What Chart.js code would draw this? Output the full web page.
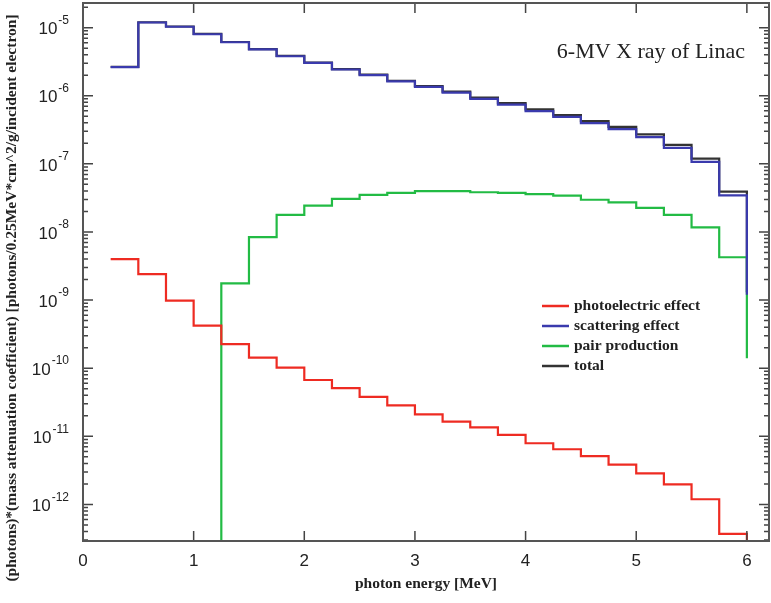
<!DOCTYPE html>
<html>
<head>
<meta charset="utf-8">
<title>6-MV X ray of Linac</title>
<script src="https://cdn.jsdelivr.net/npm/chart.js@4/dist/chart.umd.min.js"></script>
<style>
  body { margin: 0; background: #fff; }
  canvas { display: block; }
</style>
</head>
<body>
<canvas id="spectrum" width="771" height="603"></canvas>
<script>
// left edge of every 0.25 MeV energy bin
const binStart = [0.25, 0.5, 0.75, 1.0, 1.25, 1.5, 1.75, 2.0, 2.25, 2.5, 2.75, 3.0,
                  3.25, 3.5, 3.75, 4.0, 4.25, 4.5, 4.75, 5.0, 5.25, 5.5, 5.75];
const binEnd = 6.0;

const photoelectric = [4.0e-9, 2.4e-9, 9.8e-10, 4.2e-10, 2.25e-10, 1.43e-10, 1.02e-10, 6.7e-11,
                       5.1e-11, 3.8e-11, 2.85e-11, 2.1e-11, 1.64e-11, 1.35e-11, 1.05e-11, 7.9e-12,
                       6.45e-12, 5.1e-12, 3.84e-12, 2.86e-12, 1.97e-12, 1.19e-12, 3.7e-13];
const scattering = [2.64e-6, 1.19e-5, 1.03e-5, 8.0e-6, 6.1e-6, 4.8e-6, 3.8e-6, 3.04e-6,
                    2.43e-6, 2.01e-6, 1.62e-6, 1.35e-6, 1.11e-6, 9.0e-7, 7.4e-7, 5.95e-7,
                    4.88e-7, 3.95e-7, 3.23e-7, 2.47e-7, 1.72e-7, 1.07e-7, 3.45e-8];
const pairProduction = [null, null, null, null, 1.76e-9, 8.4e-9, 1.78e-8, 2.44e-8,
                        3.06e-8, 3.5e-8, 3.75e-8, 3.97e-8, 3.97e-8, 3.83e-8, 3.75e-8, 3.6e-8,
                        3.42e-8, 2.97e-8, 2.72e-8, 2.25e-8, 1.78e-8, 1.17e-8, 4.25e-9];
const total = [2.66e-6, 1.2e-5, 1.04e-5, 8.1e-6, 6.15e-6, 4.85e-6, 3.85e-6, 3.07e-6,
               2.46e-6, 2.05e-6, 1.66e-6, 1.39e-6, 1.15e-6, 9.4e-7, 7.8e-7, 6.3e-7,
               5.2e-7, 4.25e-7, 3.5e-7, 2.7e-7, 1.9e-7, 1.19e-7, 3.9e-8];

// where each curve falls to at the 6 MeV edge
const dropAtEnd = [1e-14, 1.2e-9, 1.4e-10, 1.3e-9];
const FLOOR = 1e-14;

const seriesNames = ['photoelectric effect', 'scattering effect', 'pair production', 'total'];
const seriesColors = ['#ee2b22', '#3a3aad', '#22bb44', '#333333'];

const energyTicks = [0, 1, 2, 3, 4, 5, 6];
const decades = [-12, -11, -10, -9, -8, -7, -6, -5];
const minorSteps = [2, 3, 4, 5, 6, 7, 8, 9];

const Y_MIN = 2.9e-13, Y_MAX = 2.3e-5;
const SANS = '"Liberation Sans", Arial, sans-serif';
const SERIF = '"Liberation Serif", "Times New Roman", serif';

// turn bin values into points for a stepped line
function histogram(values, drop) {
  const pts = [];
  values.forEach((v, i) => {
    if (v === null) return;
    if (pts.length === 0 && i > 0) pts.push({ x: binStart[i], y: FLOOR });
    pts.push({ x: binStart[i], y: v });
  });
  pts.push({ x: binEnd, y: pts[pts.length - 1].y });
  pts.push({ x: binEnd, y: drop });
  return pts;
}

const allSeries = [photoelectric, scattering, pairProduction, total];

const decorations = {
  id: 'decorations',
  afterDatasetsDraw(chart) {
    const { ctx, chartArea: a, scales: { x, y } } = chart;
    ctx.save();

    // tick marks pointing into the plot, on all four sides
    ctx.strokeStyle = '#444';
    ctx.lineWidth = 1.5;
    ctx.beginPath();
    x.ticks.forEach(t => {
      const px = x.getPixelForValue(t.value);
      ctx.moveTo(px, a.bottom); ctx.lineTo(px, a.bottom - 10);
      ctx.moveTo(px, a.top); ctx.lineTo(px, a.top + 10);
    });
    y.ticks.forEach(t => {
      const py = y.getPixelForValue(t.value);
      const len = t.major ? 10 : 5;
      ctx.moveTo(a.left, py); ctx.lineTo(a.left + len, py);
      ctx.moveTo(a.right, py); ctx.lineTo(a.right - len, py);
    });
    ctx.stroke();

    ctx.strokeStyle = '#555';
    ctx.lineWidth = 2;
    ctx.strokeRect(a.left, a.top, a.right - a.left, a.bottom - a.top);

    // decade labels as 10 with a raised exponent
    ctx.fillStyle = '#222';
    ctx.textBaseline = 'middle';
    ctx.textAlign = 'right';
    decades.forEach(d => {
      const py = y.getPixelForValue(Math.pow(10, d));
      const exp = String(d);
      ctx.font = '12px ' + SANS;
      const w = ctx.measureText(exp).width;
      ctx.fillText(exp, a.left - 14, py - 7);
      ctx.font = '17px ' + SANS;
      ctx.fillText('10', a.left - 15 - w, py + 2);
    });

    // y axis title
    ctx.save();
    ctx.translate(12, 298);
    ctx.rotate(-Math.PI / 2);
    ctx.textAlign = 'center';
    ctx.font = 'bold 15.5px ' + SERIF;
    ctx.fillText('(photons)*(mass attenuation coefficient) [photons/0.25MeV*cm^2/g/incident electron]', 0, 0);
    ctx.restore();

    // chart caption in the upper right corner
    ctx.textAlign = 'right';
    ctx.textBaseline = 'alphabetic';
    ctx.font = '22px ' + SERIF;
    ctx.fillText('6-MV X ray of Linac', 745, 58);

    // legend block
    ctx.textAlign = 'left';
    ctx.textBaseline = 'middle';
    ctx.font = 'bold 15.5px ' + SERIF;
    chart.data.datasets.forEach((ds, i) => {
      const ly = 306 + i * 20;
      ctx.strokeStyle = ds.borderColor;
      ctx.lineWidth = 2.5;
      ctx.beginPath();
      ctx.moveTo(542, ly); ctx.lineTo(569, ly);
      ctx.stroke();
      ctx.fillStyle = '#222';
      ctx.fillText(ds.label, 574, ly);
    });

    ctx.restore();
  }
};

new Chart(document.getElementById('spectrum'), {
  type: 'line',
  data: {
    datasets: allSeries.map((vals, i) => ({
      label: seriesNames[i],
      data: histogram(vals, dropAtEnd[i]),
      borderColor: seriesColors[i],
      borderWidth: 2.2,
      pointRadius: 0,
      stepped: true,
      fill: false
    }))
  },
  options: {
    responsive: false,
    animation: false,
    devicePixelRatio: 1,
    layout: { padding: { top: 3, right: 2, left: 0, bottom: 0 } },
    plugins: { legend: { display: false }, tooltip: { enabled: false } },
    scales: {
      x: {
        type: 'linear',
        min: 0,
        max: 6.2,
        afterFit: s => { s.height = 62; },
        afterBuildTicks: s => { s.ticks = energyTicks.map(v => ({ value: v })); },
        grid: { display: false },
        border: { display: false },
        ticks: { font: { family: SANS, size: 17 }, color: '#222', padding: 2, maxRotation: 0 },
        title: {
          display: true,
          text: 'photon energy [MeV]',
          color: '#222',
          font: { family: SERIF, size: 15.5, weight: 'bold' },
          padding: { top: 0, bottom: 10 }
        }
      },
      y: {
        type: 'logarithmic',
        min: Y_MIN,
        max: Y_MAX,
        afterFit: s => { s.width = 83; },
        afterBuildTicks: s => {
          const ticks = [];
          for (let d = decades[0] - 1; d <= decades[decades.length - 1]; d++) {
            [1].concat(minorSteps).forEach(m => {
              const v = m * Math.pow(10, d);
              if (v >= Y_MIN && v <= Y_MAX) ticks.push({ value: v, major: m === 1 });
            });
          }
          s.ticks = ticks;
        },
        grid: { display: false },
        border: { display: false },
        ticks: { display: false }
      }
    }
  },
  plugins: [decorations]
});
</script>
</body>
</html>
